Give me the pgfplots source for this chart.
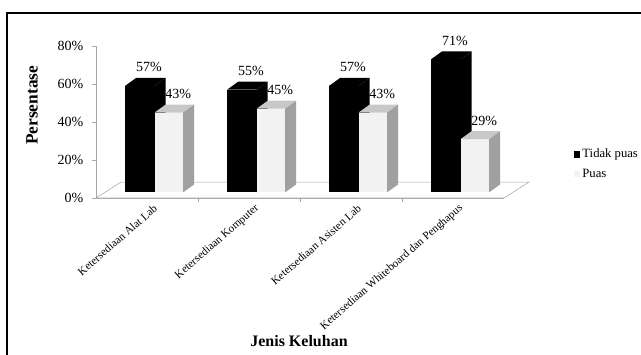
\documentclass[border=0pt]{standalone}
\usepackage{fontspec}
\setmainfont{Liberation Serif}
\usepackage{pgfplots}
\pgfplotsset{compat=1.18}

\definecolor{lightbar}{HTML}{F2F2F2}
\definecolor{lighttop}{HTML}{C8C8C8}
\definecolor{lightside}{HTML}{A0A0A0}
\definecolor{floorline}{HTML}{A6A6A6}

\tikzset{vlab/.style={anchor=base, yshift=4.5pt, inner sep=0pt, font=\fontsize{10.5}{12}\selectfont}}

% #1 left x, #2 right x, #3 value, #4 front, #5 top, #6 side
\newcommand{\barD}[6]{%
  \pgfmathsetmacro\xa{#1}%
  \pgfmathsetmacro\xb{#2}%
  \pgfmathsetmacro\xc{#2+0.108}%
  \pgfmathsetmacro\xd{#1+0.108}%
  \pgfmathsetmacro\yt{#3+2}%
  \pgfmathsetmacro\yu{#3+6.2}%
  \pgfmathsetmacro\xm{(#1+#2)/2+0.09}%
  \addplot[fill=#4,draw=none,forget plot] coordinates {(\xa,3) (\xb,3) (\xb,\yt) (\xa,\yt)} --cycle;
  \addplot[fill=#5,draw=none,forget plot] coordinates {(\xa,\yt) (\xb,\yt) (\xc,\yu) (\xd,\yu)} --cycle;
  \addplot[fill=#6,draw=none,forget plot] coordinates {(\xb,3) (\xc,7.2) (\xc,\yu) (\xb,\yt)} --cycle;
  \edef\tmp{\noexpand\node[vlab] at (axis cs:\xm,\yu) {#3\noexpand\%};}\tmp
}

\begin{document}
\begin{tikzpicture}
\useasboundingbox (0,0) rectangle (480.75pt,265.5pt);
\draw[line width=1.1pt] (5.25pt,-1pt) -- (5.25pt,255.75pt) -- (482pt,255.75pt);
\begin{axis}[
  at={(72pt,117pt)}, anchor=south west,
  scale only axis, width=306pt, height=114pt,
  xmin=-0.5, xmax=3.5, ymin=0, ymax=80,
  clip=false,
  axis lines*=left,
  axis line style={draw=floorline,-},
  tick align=outside,
  ytick={0,20,40,60,80},
  yticklabels={0\%,20\%,40\%,60\%,80\%},
  yticklabel style={font=\fontsize{10.5}{12}\selectfont, xshift=-3pt},
  ytick style={draw=floorline},
  major tick length=3pt,
  xtick={0,1,2,3},
  xtick style={draw=none},
  xticklabels={Ketersediaan Alat Lab,Ketersediaan Komputer,Ketersediaan Asisten Lab,Ketersediaan Whiteboard dan Penghapus},
  xticklabel style={rotate=41, anchor=east, font=\fontsize{8.4}{9}\selectfont, inner sep=0pt, xshift=2.5pt, yshift=-7pt},
  xlabel={Jenis Keluhan},
  ylabel={Persentase},
  xlabel style={at={(axis description cs:0.4975,-0.94)}, anchor=center, font=\bfseries\fontsize{12}{14}\selectfont},
  ylabel style={at={(axis description cs:-0.157,0.61)}, anchor=center, font=\bfseries\fontsize{13}{15}\selectfont},
  legend style={at={(axis description cs:1.17,0.224)}, anchor=west, draw=none, fill=none,
    font=\fontsize{9.5}{11}\selectfont, row sep=3pt, inner sep=0pt},
  legend cell align=left,
  legend image code/.code={\fill[#1, draw=none] (0pt,-2.6pt) rectangle (4.6pt,2.6pt);},
]
\addlegendimage{fill=black}
\addlegendentry{Tidak puas}
\addlegendimage{fill=lightbar}
\addlegendentry{Puas}

\addplot[fill=white, draw=floorline, forget plot] coordinates {(-0.5,0) (3.5,0) (3.745,8.4) (-0.255,8.4)} --cycle;
\addplot[draw=floorline, forget plot] coordinates {(0.5,0) (0.5,-2)};
\addplot[draw=floorline, forget plot] coordinates {(1.5,0) (1.5,-2)};
\addplot[draw=floorline, forget plot] coordinates {(2.5,0) (2.5,-2)};

\barD{-0.215}{0.075}{57}{black}{black}{black}
\barD{0.075}{0.355}{43}{lightbar}{lighttop}{lightside}
\barD{0.785}{1.075}{55}{black}{black}{black}
\barD{1.075}{1.355}{45}{lightbar}{lighttop}{lightside}
\barD{1.785}{2.075}{57}{black}{black}{black}
\barD{2.075}{2.355}{43}{lightbar}{lighttop}{lightside}
\barD{2.785}{3.075}{71}{black}{black}{black}
\barD{3.075}{3.355}{29}{lightbar}{lighttop}{lightside}
\end{axis}
\end{tikzpicture}
\end{document}
